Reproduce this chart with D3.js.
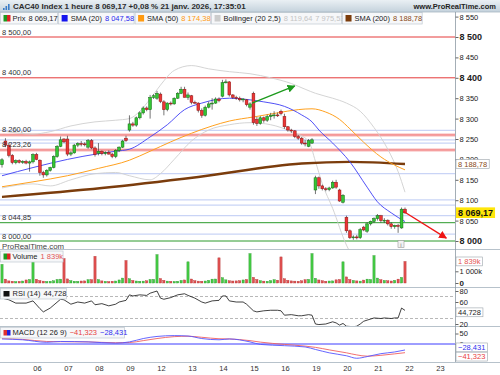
<!DOCTYPE html>
<html>
<head>
<meta charset="utf-8">
<script src="https://cdnjs.cloudflare.com/ajax/libs/d3/7.8.5/d3.min.js"></script>
<style>
  body { margin: 0; background: #fff; }
  svg { display: block; font-family: "Liberation Sans", Arial, sans-serif; }
</style>
</head>
<body>
<svg id="chart" width="500" height="375"></svg>
<script>
// hourly bars: Jan 2 17h, then Jan 5 .. Jan 21 (9 bars a day, 9h..17h)
var open  = [8187,
  8245,8235,8210,8192,8197,8193,8195,8191,8194,
  8212,8198,8168,8162,8173,8180,8207,8232,8250,
  8250,8213,8216,8235,8239,8238,8230,8246,8228,
  8215,8220,8214,8217,8213,8207,8222,8230,8252,
  8272,8287,8284,8302,8314,8326,8322,8352,8350,
  8360,8341,8322,8338,8336,8350,8362,8372,8352,
  8356,8340,8338,8320,8308,8328,8336,8338,8348,
  8355,8388,8390,8358,8352,8350,8346,8346,8328,
  8362,8298,8288,8302,8296,8305,8308,8309,8318,
  8305,8280,8272,8270,8256,8252,8240,8232,8240,
  8125,8155,8135,8128,8126,8130,8144,8125,8095,
  8058,8025,8008,8010,8008,8034,8024,8042,8048,
  8055,8062,8050,8051,8042,8035,8038,8032,8078];
var high  = [8203,
  8252,8240,8213,8200,8200,8198,8199,8197,8215,
  8216,8200,8172,8176,8182,8210,8235,8256,8252,
  8258,8220,8238,8242,8245,8242,8250,8250,8232,
  8240,8222,8220,8222,8216,8225,8232,8248,8258,
  8308,8292,8305,8318,8330,8330,8358,8360,8368,
  8364,8345,8340,8342,8352,8365,8378,8378,8364,
  8358,8344,8340,8325,8332,8342,8350,8352,8352,
  8395,8396,8392,8360,8356,8354,8350,8348,8340,
  8366,8304,8306,8305,8310,8314,8318,8315,8322,
  8312,8282,8275,8272,8260,8255,8248,8250,8252,
  8160,8158,8138,8132,8133,8148,8150,8128,8115,
  8062,8028,8014,8015,8032,8037,8046,8050,8058,
  8066,8064,8056,8053,8046,8040,8042,8082,8082];
var low   = [8180,
  8230,8205,8188,8188,8190,8189,8188,8170,8190,
  8198,8160,8155,8158,8170,8178,8204,8230,8240,
  8208,8208,8214,8230,8232,8232,8226,8225,8207,
  8210,8210,8210,8212,8203,8203,8218,8228,8243,
  8268,8280,8280,8298,8310,8318,8300,8348,8346,
  8338,8308,8318,8332,8334,8348,8360,8352,8346,
  8335,8336,8315,8302,8305,8325,8322,8336,8340,
  8352,8386,8354,8348,8346,8342,8340,8330,8322,
  8285,8282,8285,8290,8292,8296,8300,8304,8308,
  8275,8268,8265,8252,8248,8236,8232,8230,8238,
  8115,8128,8124,8122,8122,8128,8128,8096,8092,
  8020,8005,8003,8004,8005,8024,8020,8038,8044,
  8050,8045,8044,8038,8030,8030,8020,8030,8066];
var close = [8199,
  8235,8210,8192,8197,8193,8195,8191,8194,8212,
  8200,8168,8162,8173,8180,8207,8232,8248,8243,
  8213,8216,8235,8239,8238,8237,8246,8228,8212,
  8220,8214,8217,8213,8207,8222,8230,8245,8246,
  8287,8284,8302,8314,8326,8322,8352,8356,8362,
  8342,8322,8338,8336,8350,8362,8372,8352,8358,
  8340,8338,8320,8308,8328,8336,8338,8348,8344,
  8388,8390,8358,8352,8350,8346,8348,8334,8336,
  8290,8288,8302,8296,8305,8308,8309,8308,8312,
  8280,8272,8270,8256,8252,8240,8238,8246,8248,
  8155,8135,8128,8126,8130,8144,8132,8098,8112,
  8025,8008,8010,8008,8028,8027,8042,8048,8055,
  8062,8050,8051,8042,8035,8038,8036,8078,8069.17];
// volume in thousands
var volume = [1590,
  330,180,150,120,140,170,260,300,1860,
  320,210,160,130,150,190,300,330,2090,
  350,200,150,140,170,180,280,290,2280,
  290,180,140,120,150,170,260,420,1920,
  360,220,170,150,160,190,300,310,2420,
  380,230,160,140,130,150,220,260,1810,
  340,200,160,150,170,230,330,340,2150,
  450,270,190,170,180,200,260,300,2510,
  480,300,200,160,150,210,280,240,2230,
  360,230,180,160,150,190,280,310,2510,
  400,260,190,150,170,180,270,300,1810,
  520,300,220,180,160,250,330,300,2340,
  420,280,220,190,170,230,330,480,1839];

// indicators as [bar, value]
var sma20 = [[0,8160],[9,8180],[19,8200],[28,8214],[33,8220],[37,8225],[43,8255],[48,8285],[53,8322],[58,8338],[66,8350],[71,8347],[76,8341],[82,8330],[87,8309],[90,8292],[92,8272],[96,8240],[101,8194],[106,8132],[109,8096],[113,8069],[117,8047.58]];
var sma50 = [[0,8133],[9,8145],[19,8160],[28,8178],[37,8198],[43,8220],[49,8243],[55,8264],[61,8282],[66,8294],[73,8304],[80,8314],[86,8322],[90,8324],[94,8316],[98,8298],[101,8275],[105,8242],[110,8206],[114,8186],[117,8174.38]];
var sma200 = [[0,8108],[29,8130],[57,8157],[87,8190],[101,8194],[117,8188.78]];
var bollUp = [[0,8270],[9,8262],[14,8268],[20,8282],[27,8292],[33,8296],[37,8300],[40,8318],[43,8348],[46,8382],[50,8418],[55,8430],[60,8422],[66,8415],[72,8410],[78,8400],[84,8386],[88,8372],[91,8362],[96,8350],[100,8338],[104,8318],[108,8278],[112,8225],[115,8170],[117,8119.64]];
var bollLow = [[0,8130],[9,8140],[14,8135],[20,8150],[27,8165],[33,8168],[37,8160],[43,8150],[46,8165],[50,8200],[55,8245],[60,8272],[66,8285],[72,8290],[78,8285],[84,8268],[89,8245],[91,8195],[93,8140],[96,8080],[100,7990],[105,7930],[110,7920],[117,7975.53]];
var rsi = [[0,67],[2,64],[4,58],[7,58],[9,62],[11,48],[12,42],[14,49],[17,65],[18,64],[20,56],[22,60],[24,58],[26,62],[27,55],[29,57],[31,53],[33,56],[34,60],[36,63],[37,73],[38,71],[40,73],[42,72],[43,76],[45,80],[46,67],[47,65],[49,68],[51,73],[53,75],[54,72],[56,67],[58,60],[59,58],[61,62],[63,63],[64,71],[65,71],[66,62],[68,60],[70,60],[71,56],[73,44],[74,42],[76,44],[78,45],[80,45],[81,44],[82,36],[84,37],[86,35],[87,35],[89,37],[90,36],[91,20],[92,19],[94,20],[96,24],[97,22],[98,18],[99,21],[100,16],[102,15],[103,16],[104,20],[105,25],[106,27],[108,31],[110,30],[111,31],[113,30],[114,31],[115,31],[116,49],[117,44.728]];
var macd = [[0,24],[6,20],[13,8],[17,12],[25,10],[33,4],[37,10],[41,26],[45,36],[50,40],[54,38],[58,26],[63,20],[66,24],[72,10],[75,-2],[82,-8],[88,-14],[91,-26],[95,-42],[100,-56],[103,-68],[106,-60],[110,-46],[114,-38],[117,-28.431]];
var signal = [[0,26],[6,22],[13,12],[17,11],[25,10],[33,6],[37,7],[41,16],[45,26],[50,35],[54,37],[58,32],[63,25],[66,24],[72,16],[75,9],[82,-2],[88,-10],[91,-16],[95,-28],[100,-42],[103,-52],[106,-58],[110,-54],[114,-47],[117,-41.323]];

var dayLabels = ["06","07","08","09","12","13","14","15","16","19","20","21","22","23"];
var dayStart  = [10,19,28,37,46,55,64,73,82,91,100,109,118,127];

var redLevels = [8500, 8400];
var pinkLevels = [8260, 8223.26];
var blueLevels = [8271, 8248, 8240, 8165, 8101, 8088, 8062, 8017];
var greenLevels = [8044.85, 8000];
var leftLabels = [8500, 8400, 8260, 8223.26, 8044.85, 8000];
var arrows = [
  {from: [72.6, 8338], to: [85, 8380], color: "#1c9a1c", id: "ag"},
  {from: [116.5, 8073], to: [129, 8007], color: "#ee1515", id: "ar"}
];

var svg = d3.select("#chart");
var axisX = 455;
var fr = d3.formatLocale({decimal: ",", thousands: " ", grouping: [3], currency: ["", ""]});
var f2 = fr.format(",.2f"), f3 = fr.format(",.3f"), f0 = fr.format(",");
var last = close.length - 1;

var x = d3.scaleLinear().domain([0, last]).range([2, 405]);
var yP = d3.scaleLinear().domain([8000, 8500]).range([241, 37]);
var yV = d3.scaleLinear().domain([0, 1839]).range([283, 261.5]);
var yR = d3.scaleLinear().domain([20, 80]).range([324, 291]);
var yM = d3.scaleLinear().domain([-50, 50]).range([354.5, 333.5]);

var defs = svg.append("defs");
function clip(id, y0, y1) {
  defs.append("clipPath").attr("id", id).append("rect")
    .attr("x", 0).attr("y", y0).attr("width", axisX).attr("height", y1 - y0);
}
clip("cMain", 12, 249); clip("cVol", 250, 287); clip("cRsi", 288, 326); clip("cMacd", 327, 362);

var grad = defs.append("linearGradient").attr("id", "titleGrad").attr("x1", 0).attr("y1", 0).attr("x2", 0).attr("y2", 1);
grad.append("stop").attr("offset", "0%").attr("stop-color", "#eaf0f4");
grad.append("stop").attr("offset", "100%").attr("stop-color", "#c4d2dc");

arrows.forEach(function (a) {
  defs.append("marker").attr("id", a.id).attr("viewBox", "0 0 10 10")
    .attr("refX", 9).attr("refY", 5).attr("markerWidth", 8).attr("markerHeight", 8)
    .attr("markerUnits", "userSpaceOnUse").attr("orient", "auto")
    .append("path").attr("d", "M0,0L10,5L0,10z").attr("fill", a.color);
});

svg.append("rect").attr("width", 500).attr("height", 375).attr("fill", "#fff");

// ---- main price panel
var gMain = svg.append("g").attr("clip-path", "url(#cMain)");
function hline(g, y, color, w) {
  g.append("line").attr("x1", 0).attr("x2", axisX).attr("y1", y).attr("y2", y)
    .attr("stroke", color).attr("stroke-width", w);
}
blueLevels.forEach(function (p) { hline(gMain, yP(p), "#c9d4f6", 1.2); });
pinkLevels.forEach(function (p) { hline(gMain, yP(p), "#f8b4b4", 3); hline(gMain, yP(p), "#ef7070", 0.7); });
redLevels.forEach(function (p) { hline(gMain, yP(p), "#e22424", 0.9); });
greenLevels.forEach(function (p) { hline(gMain, yP(p), "#2c9a2c", 1); });

var pline = d3.line().x(function (d) { return x(d[0]); }).y(function (d) { return yP(d[1]); }).curve(d3.curveMonotoneX);
gMain.append("path").attr("d", pline(bollUp)).attr("fill", "none").attr("stroke", "#cfcfcf").attr("stroke-width", 0.9);
gMain.append("path").attr("d", pline(bollLow)).attr("fill", "none").attr("stroke", "#cfcfcf").attr("stroke-width", 0.9);
gMain.append("path").attr("d", pline(sma200)).attr("fill", "none").attr("stroke", "#7b3c0c").attr("stroke-width", 2.4);
gMain.append("path").attr("d", pline(sma50)).attr("fill", "none").attr("stroke", "#ffa11f").attr("stroke-width", 1);
gMain.append("path").attr("d", pline(sma20)).attr("fill", "none").attr("stroke", "#3d3df5").attr("stroke-width", 0.9);

var bars = d3.range(close.length).map(function (i) {
  return {i: i, o: open[i], h: high[i], l: low[i], c: close[i], v: volume[i], up: close[i] >= open[i]};
});
gMain.selectAll(".wick").data(bars).join("line").attr("class", "wick")
  .attr("x1", function (d) { return x(d.i); }).attr("x2", function (d) { return x(d.i); })
  .attr("y1", function (d) { return yP(d.h); }).attr("y2", function (d) { return yP(d.l); })
  .attr("stroke", "#3a3a3a").attr("stroke-width", 0.7);
gMain.selectAll(".body").data(bars).join("rect").attr("class", "body")
  .attr("x", function (d) { return x(d.i) - 1.4; }).attr("width", 2.8)
  .attr("y", function (d) { return yP(Math.max(d.o, d.c)); })
  .attr("height", function (d) { return Math.max(0.9, Math.abs(yP(d.o) - yP(d.c))); })
  .attr("fill", function (d) { return d.up ? "#34c634" : "#ec3535"; })
  .attr("stroke", function (d) { return d.up ? "#136b13" : "#8c1414"; })
  .attr("stroke-width", 0.5);

arrows.forEach(function (a) {
  gMain.append("line").attr("x1", x(a.from[0])).attr("y1", yP(a.from[1]))
    .attr("x2", x(a.to[0])).attr("y2", yP(a.to[1]))
    .attr("stroke", a.color).attr("stroke-width", 1.3).attr("marker-end", "url(#" + a.id + ")");
});

leftLabels.forEach(function (p) {
  gMain.append("text").attr("x", 2).attr("y", yP(p) - 2.5).attr("font-size", 7.5)
    .attr("fill", "#333").text(f2(p));
});
gMain.append("text").attr("x", 2).attr("y", 248.5).attr("font-size", 7.8).attr("fill", "#444").text("ProRealTime.com");
gMain.append("rect").attr("x", 398).attr("y", 240.5).attr("width", 6).attr("height", 7)
  .attr("fill", "#f2f2f2").attr("stroke", "#999").attr("stroke-width", 0.6);
gMain.append("text").attr("x", 401).attr("y", 246.5).attr("font-size", 6).attr("text-anchor", "middle").attr("fill", "#777").text("i");

// ---- legend boxes
function legendRow(x0, y0, h, items) {
  var cx = x0;
  items.forEach(function (it) {
    var g = svg.append("g");
    var bg = g.append("rect");
    var ix = cx + 3;
    it.icon.forEach(function (c, k) {
      g.append("rect").attr("x", ix + k * 3.5).attr("y", y0 + 2.5).attr("width", it.icon.length > 1 ? 3.5 : 6)
        .attr("height", h - 5).attr("fill", c);
    });
    var t = g.append("text").attr("x", ix + 9).attr("y", y0 + h - 3).attr("font-size", 7.5);
    t.append("tspan").attr("fill", "#222").text(it.label);
    it.values.forEach(function (v) {
      t.append("tspan").attr("fill", v[1]).attr("dx", 3).text(v[0]);
    });
    var w = t.node().getComputedTextLength() + 15;
    bg.attr("x", cx).attr("y", y0).attr("width", w).attr("height", h)
      .attr("fill", "#f6f7f9").attr("stroke", "#bfc8d0").attr("stroke-width", 0.7);
    cx += w + 1;
  });
}
legendRow(0.5, 12.5, 11.5, [
  {icon: ["#1e9a1e", "#de2424"], label: "Prix", values: [[f2(close[last]), "#222"]]},
  {icon: ["#1414ee"], label: "SMA (20)", values: [[f2(sma20[sma20.length - 1][1]), "#2a2aee"]]},
  {icon: ["#ff9a10"], label: "SMA (50)", values: [[f2(sma50[sma50.length - 1][1]), "#ff9a10"]]},
  {icon: ["#cccccc"], label: "Bollinger (20 2,5)", values: [[f2(bollUp[bollUp.length - 1][1]), "#c4c4c4"], [f2(bollLow[bollLow.length - 1][1]), "#c4c4c4"]]},
  {icon: ["#7b3c0c"], label: "SMA (200)", values: [[f2(sma200[sma200.length - 1][1]), "#8b4a14"]]}
]);

// ---- title bar
svg.append("rect").attr("width", 500).attr("height", 12).attr("fill", "url(#titleGrad)");
svg.append("line").attr("x1", 0).attr("x2", 500).attr("y1", 12).attr("y2", 12).attr("stroke", "#a7b6c2").attr("stroke-width", 0.8);
[[3, 6], [5.5, 4], [8, 2]].forEach(function (b) {
  svg.append("rect").attr("x", b[0]).attr("y", 2 + b[1]).attr("width", 1.6).attr("height", 8 - b[1]).attr("fill", "#3a7cc8");
});
svg.append("text").attr("x", 13).attr("y", 9).attr("font-size", 8).attr("font-weight", "bold").attr("fill", "#2b2b2b")
  .text("CAC40 Index 1 heure " + f2(close[last]) + " +0,08 % 21 janv. 2026, 17:35:01");
svg.append("text").attr("x", 496).attr("y", 9).attr("font-size", 7.5).attr("font-weight", "bold")
  .attr("text-anchor", "end").attr("fill", "#222").text("www.ProRealTime.com");

// ---- volume panel
var gVol = svg.append("g").attr("clip-path", "url(#cVol)");
gVol.selectAll("rect").data(bars).join("rect")
  .attr("x", function (d) { return x(d.i) - 1.1; }).attr("width", 2.2)
  .attr("y", function (d) { return yV(d.v); }).attr("height", function (d) { return yV(0) - yV(d.v); })
  .attr("fill", function (d) { return d.up ? "#45cc45" : "#e05050"; })
  .attr("stroke", function (d) { return d.up ? "#2b962b" : "#b33434"; }).attr("stroke-width", 0.4);
legendRow(0.5, 251, 11, [{icon: ["#1e9a1e", "#de2424"], label: "Volume", values: [[f0(volume[last]) + "k", "#e25555"]]}]);

// ---- RSI panel
var gRsi = svg.append("g").attr("clip-path", "url(#cRsi)");
[70, 30].forEach(function (v) {
  gRsi.append("line").attr("x1", 0).attr("x2", axisX).attr("y1", yR(v)).attr("y2", yR(v))
    .attr("stroke", "#9a9a9a").attr("stroke-width", 0.7).attr("stroke-dasharray", "3,2");
});
var rline = d3.line().x(function (d) { return x(d[0]); }).y(function (d) { return yR(d[1]); });
gRsi.append("path").attr("d", rline(rsi)).attr("fill", "none").attr("stroke", "#111").attr("stroke-width", 0.8);
legendRow(0.5, 288.5, 10.5, [{icon: ["#111"], label: "RSI (14)", values: [[f3(rsi[rsi.length - 1][1]), "#222"]]}]);

// ---- MACD panel
var gMacd = svg.append("g").attr("clip-path", "url(#cMacd)");
gMacd.append("line").attr("x1", 0).attr("x2", axisX).attr("y1", yM(0)).attr("y2", yM(0)).attr("stroke", "#3c3cff").attr("stroke-width", 1);
var mline = d3.line().x(function (d) { return x(d[0]); }).y(function (d) { return yM(d[1]); }).curve(d3.curveMonotoneX);
gMacd.append("path").attr("d", mline(signal)).attr("fill", "none").attr("stroke", "#f06060").attr("stroke-width", 0.9);
gMacd.append("path").attr("d", mline(macd)).attr("fill", "none").attr("stroke", "#5555ff").attr("stroke-width", 0.9);
legendRow(0.5, 327.5, 10.5, [{icon: ["#e03030", "#2020e0"], label: "MACD (12 26 9)",
  values: [[f3(signal[signal.length - 1][1]), "#e84040"], [f3(macd[macd.length - 1][1]), "#3030ee"]]}]);

// ---- separators and right axes
[249.5, 287.5, 326.5, 362.5].forEach(function (y) {
  svg.append("line").attr("x1", 0).attr("x2", 500).attr("y1", y).attr("y2", y).attr("stroke", "#b7c2cb").attr("stroke-width", 1);
});
svg.append("line").attr("x1", axisX + 0.5).attr("x2", axisX + 0.5).attr("y1", 12).attr("y2", 362).attr("stroke", "#8d99a3").attr("stroke-width", 0.8);

function rightAxis(scale, ticks, fmt, boldSet, bigSize) {
  var g = svg.append("g").attr("transform", "translate(" + (axisX + 0.5) + ",0)")
    .call(d3.axisRight(scale).tickValues(ticks).tickSize(3).tickPadding(1).tickFormat(fmt));
  g.select(".domain").remove();
  g.selectAll("line").attr("stroke", "#666");
  g.selectAll("text").attr("font-family", "Liberation Sans, Arial, sans-serif").attr("fill", "#222")
    .attr("font-size", function (d) { return boldSet.indexOf(d) >= 0 ? bigSize : 7.5; })
    .attr("font-weight", function (d) { return boldSet.indexOf(d) >= 0 ? "bold" : "normal"; });
  return g;
}
rightAxis(yP, d3.range(8000, 8551, 50), function (d) { return f0(d); }, [8500, 8400, 8000], 9);
rightAxis(yV, [1000, 0], function (d) { return d ? f0(d) + "k" : "0"; }, [0], 8);
rightAxis(yR, [80, 60, 20], function (d) { return d; }, [], 7.5);
rightAxis(yM, [50, 0], function (d) { return d; }, [], 7.5);

function valueBox(y, txt, color, fill, bold, size) {
  var g = svg.append("g");
  var r = g.append("rect");
  var t = g.append("text").attr("x", axisX + 3).attr("y", y + size * 0.36).attr("font-size", size)
    .attr("font-weight", bold ? "bold" : "normal").attr("fill", color).text(txt);
  var w = t.node().getComputedTextLength();
  r.attr("x", axisX + 1).attr("y", y - size * 0.6).attr("width", w + 4).attr("height", size * 1.18)
    .attr("fill", fill).attr("stroke", bold ? "none" : "#9aa3aa").attr("stroke-width", 0.6);
}
valueBox(yP(sma200[sma200.length - 1][1]), f2(sma200[sma200.length - 1][1]), "#8b4a14", "#fff", false, 7.5);
valueBox(yP(close[last]), f2(close[last]), "#111", "#ffe60a", true, 9);
valueBox(yV(volume[last]), f0(volume[last]) + "k", "#e25555", "#fff", false, 7.5);
valueBox(yR(rsi[rsi.length - 1][1]) + 2, f3(rsi[rsi.length - 1][1]), "#222", "#fff", false, 7.5);
valueBox(yM(macd[macd.length - 1][1]) - 2.5, f3(macd[macd.length - 1][1]), "#3030ee", "#fff", false, 7.5);
valueBox(yM(signal[signal.length - 1][1]) + 4, f3(signal[signal.length - 1][1]), "#e84040", "#fff", false, 7.5);

// ---- time axis
svg.selectAll(".day").data(dayLabels).join("text").attr("class", "day")
  .attr("x", function (d, k) { return x(dayStart[k]) + 1; }).attr("y", 371)
  .attr("text-anchor", "middle").attr("font-size", 7.5).attr("fill", "#333")
  .text(function (d) { return d; });
</script>
</body>
</html>
